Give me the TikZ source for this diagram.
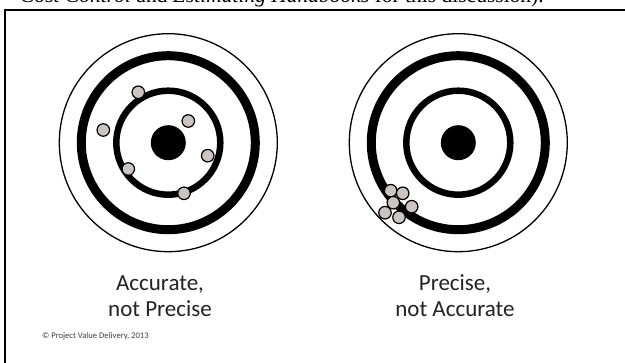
\documentclass[tikz,border=0pt]{standalone}
\usepackage{fontspec}
\setmainfont{Liberation Serif}
\setsansfont{Carlito}
\usetikzlibrary{positioning}
\definecolor{shotgray}{RGB}{203,196,192}
\definecolor{captxt}{RGB}{35,35,35}

\begin{document}
\begin{tikzpicture}[x=1pt, y=-1pt,
  ring/.style={draw, circle, inner sep=0pt, minimum size=#1},
  bull/.style={circle, fill=black, inner sep=0pt, minimum size=35pt},
  shot/.style={draw, circle, fill=shotgray, line width=1.2pt, inner sep=0pt, minimum size=12.5pt},
  captext/.style={font=\sffamily\fontsize{23}{26}\selectfont, align=center, text=captxt},
  note/.style={font=\sffamily\fontsize{8.6}{10}\selectfont, text=black!75},
]
\useasboundingbox[clip] (0,0) rectangle (625,363);
\fill[white] (0,0) rectangle (625,363);

% cut-off line of the page above
\node[anchor=base west, inner sep=0pt, font=\fontsize{21.5}{24}\selectfont] (head) at (20,2.5)
  {\textit{Cost Control} and \textit{Estimating Handbooks} for this discussion).};

% frame
\draw[line width=2.6pt] (5,370) -- (5,10) -- (640,10);

% left target: accurate, not precise
\node[ring=218pt, line width=1.3pt] (outL) at (168.3,142.7) {};
\node[ring=174pt, line width=9pt] (midL) at (outL.center) {};
\node[ring=104pt, line width=6.5pt] (inL) at (outL.center) {};
\node[bull] (bullL) at (outL.center) {};
\node[shot] (sL1) at (138.3,92.3) {};
\node[shot] (sL2) at (103.3,130) {};
\node[shot] (sL3) at (188.3,121) {};
\node[shot] (sL4) at (207.7,155.7) {};
\node[shot] (sL5) at (128.3,169) {};
\node[shot] (sL6) at (184,193.3) {};

% right target: precise, not accurate
\node[ring=218pt, line width=1.3pt] (outR) at (458.3,142.7) {};
\node[ring=174pt, line width=9pt] (midR) at (outR.center) {};
\node[ring=104pt, line width=6.5pt] (inR) at (outR.center) {};
\node[bull] (bullR) at (outR.center) {};
\node[shot] (sR1) at (390.7,190.7) {};
\node[shot] (sR2) at (402.7,193.3) {};
\node[shot] (sR3) at (411.7,206.7) {};
\node[shot] (sR4) at (393.3,202.7) {};
\node[shot] (sR5) at (385,212.7) {};
\node[shot] (sR6) at (399,217.3) {};

% captions
\node[captext] (capL) at (160,296) {Accurate,\\not Precise};
\node[captext] (capR) at (455,296) {Precise,\\not Accurate};
\node[note, anchor=west, inner sep=0pt] (copy) at (42,336) {© Project Value Delivery, 2013};
\end{tikzpicture}
\end{document}
